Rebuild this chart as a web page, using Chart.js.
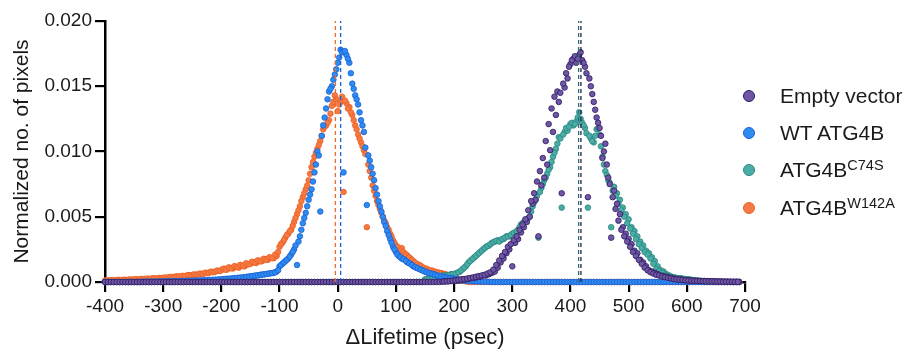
<!DOCTYPE html>
<html><head><meta charset="utf-8">
<script src="https://cdn.jsdelivr.net/npm/chart.js@4/dist/chart.umd.min.js"></script>
<style>
html,body{margin:0;padding:0;background:#fff;overflow:hidden;}
#wrap{position:relative;width:903px;height:353px;}
#legend{position:absolute;left:737px;top:77px;font-family:"Liberation Sans",Arial,Helvetica,sans-serif;font-size:21px;color:#1a1a1a;}
.item{display:flex;align-items:center;height:37.3px;white-space:nowrap;}
.dot{width:10px;height:10px;border-radius:50%;border:1.2px solid;margin-left:6px;margin-right:25px;flex:none;}
sup{font-size:14.5px;vertical-align:7px;line-height:0;}
</style>
</head><body>
<div id="wrap">
<canvas id="c" width="903" height="353"></canvas>
<div id="legend"></div>
</div>
<script>
// x bins (psec): main grid start and width
const binStart = -400;
const binWidth = 5;

// Legend names (base text, superscript)
const seriesNames = ["Empty vector", "WT ATG4B", "ATG4B", "ATG4B"];
const seriesSup = ["", "", "C74S", "W142A"];

// Mean lifetime shift (dashed lines), psec
const seriesMeans = [418, 5, 414, -4];

// Normalized no. of pixels, in units of 1e-4, one value per 5-psec bin from -400 to 690
const emptyVectorE4 = [
 0,0,0,0,0,0,0,0,0,0,0,0,0,0,0,0,0,0,0,0,
 0,0,0,0,0,0,0,0,0,0,0,0,0,0,0,0,0,0,0,0,
 0,0,0,0,0,0,0,0,0,0,0,0,0,0,0,0,0,0,0,0,
 0,0,0,0,0,0,0,0,0,0,0,0,0,0,0,0,0,0,0,0,
 0,0,0,0,0,0,0,0,0,0,0,0,0,0,0,0,0,0,0,0,
 0,0,0,0,0,0,0,0,0,0,0,0,0,0,0,0,0.3,0.4,0.5,0.7,
 1,1,1.5,2,2,2.5,3,3,4,4,5,5,6,7,8,11,15,18,22,25,
 12,30,33,38,42,46,50,60,63,35,74,80,90,101,115,128,138,68,149,156,
 167,171,168,174,170,165,65,150,138,126,118,95,106,80,34,70,60,52,42,37,
 33,29,24,22,17,15,12,9,8,7,6,5,4.5,4,3.5,3,2.5,2,2,1.5,
 1.5,1.2,1,1,1,0.8,0.8,0.7,0.6,0.5,0.5,0.4,0.4,0.3,0.3,0.2,0.2,0.2,0.1
];
const wtAtg4bE4 = [
 0,0,0,0,0,0,0,0,0,0,0,0,0,0.3,0.3,0.3,0.4,0.4,0.4,0.5,
 0.5,0.5,0.6,0.6,0.7,0.7,0.8,0.8,0.9,1,1,1.1,1.2,1.3,1.4,1.5,1.6,1.7,1.8,2,
 2,2.2,2.4,2.5,2.7,3,3.2,3.4,3.6,4,4.3,4.6,5,5.3,5.7,6,6.3,6.7,7,8,
 12,14,16,18,21,25,13,35,45,53,63,71,84,100,54,120,133,146,150,159,
 168,178,84,174,168,152,143,136,124,115,59,93,83,72,62,54,46,39,33,27,
 23,20,18,17,15,14,12,11,10,9,8,7,6.5,6,5,4.5,4,3.5,3,2.7,
 2.5,2,1.5,1.2,1,0.8,0.6,0.5,0.4,0.3,0.2,0.2,0.1,0,0,0,0,0,0,0,
 0,0,0,0,0,0,0,0,0,0,0,0,0,0,0,0,0,0,0,0,
 0,0,0,0,0,0,0,0,0,0,0,0,0,0,0,0,0,0,0,0,
 0,0,0,0,0,0,0,0,0,0,0,0,0,0,0,0,0,0,0,0,
 0,0,0,0,0,0,0,0,0,0,0,0,0,0,0,0,0,0,0
];
const atg4bC74SE4 = [
 0,0,0,0,0,0,0,0,0,0,0,0,0,0,0,0,0,0,0,0,
 0,0,0,0,0,0,0,0,0,0,0,0,0,0,0,0,0,0,0,0,
 0,0,0,0,0,0,0,0,0,0,0,0,0,0,0,0,0,0,0,0,
 0,0,0,0,0,0,0,0,0,0,0,0,0,0,0,0,0,0,0,0,
 0,0,0,0,0,0,0,0,0,0,0,0,0,0,0,0,0,0,0,0,
 0,0,0,0,0,0,0,0,0,0,2,2,3,3,4,4,5,5,5,6,
 6,7,8,10,12,15,17,19,21,23,25,27,28,30,31,32,32,33,35,35,
 37,38,40,44,46,48,50,58,63,34,72,78,83,88,96,102,111,57,115,116,
 121,120,123,130,122,118,57,110,107,117,113,96,85,78,42,73,68,63,57,52,
 48,42,39,35,31,28,24,22,19,16,12,9,8,6,5,4,3.5,3,3,2.5,
 2,2,1.5,1.2,1,0.8,0.5,0.4,0.3,0.2,0.2,0.1,0.1,0,0,0,0,0,0
];
const atg4bW142AE4 = [
 1,1,1.2,1,1.3,1.4,1.3,1.5,1.6,1.5,1.8,1.7,2,2.1,2,2.3,2.4,2.6,2.5,2.8,
 3,3.2,3.4,3.6,3.9,4.1,4.2,4.6,4.8,5.1,5.4,5.6,5.9,6.3,6.5,6.9,7.4,7.6,8.1,8.5,
 9,10.2,9.6,10.8,10.4,11.6,11,12.4,12,13.5,14,15.2,14.6,16.3,16,17.5,17,18.6,18.2,20,
 27,30,34,37,40,46,52,58,65,71,78,88,96,102,108,117,120,124,135,143,
 131,138,69,137,134,128,120,113,107,101,42,85,74,66,59,53,47,42,37,32,
 28,25,26,22,20,18,16,14,13,11.5,10,9.5,8.5,8,7.5,7,6.5,6,5,4.5,
 3.5,2.5,1.5,1,0.5,0,0,0,0,0,0,0,0,0,0,0,0,0,0,0,
 0,0,0,0,0,0,0,0,0,0,0,0,0,0,0,0,0,0,0,0,
 0,0,0,0,0,0,0,0,0,0,0,0,0,0,0,0,0,0,0,0,
 0,0,0,0,0,0,0,0,0,0,0,0,0,0,0,0,0,0,0,0,
 0,0,0,0,0,0,0,0,0,0,0,0,0,0,0,0,0,0,0
];

// Extra readings at the half-bins (5-psec step, starting at the given x), units 1e-4
const emptyVectorMidStart = 182.5;
const emptyVectorMidE4 = [
 0.4,0.6,0.8,1,1.2,1.6,2,2.2,2.6,3,3.5,4,4.5,5,5.5,6.5,7.5,9.5,13,16.5,
 20,23,27,29,32,35,40,44,48,55,62,68,77,85,95,108,121,133,142,146,
 145,152,160,165,170,173,171,176,168,160,156,144,132,122,112,100,90,75,65,56,
 47,40,35,31,27,23,20,17,14,11,9,7.5,6.5,5.5,5,4.2,3.8,3.2,2.8,2.2,
 2,1.8,1.6,1.3,1.1,1,0.9,0.8,0.7,0.6,0.5,0.5,0.4,0.4,0.3,0.3,0.2,0.2,0.2,0.1,
 0.1,0.1
];
const wtAtg4bMidStart = -197.5;
const wtAtg4bMidE4 = [
 2.1,2.3,2.5,2.6,2.9,3.1,3.3,3.5,3.8,4.1,4.5,4.8,5.1,5.5,5.8,6.2,6.5,6.9,7.5,9,
 13,15,17,19.5,23,28,31,40,49,58,67,77,90,97,112,126,140,148,155,163,
 172,176,177,171,160,148,140,130,120,103,97,88,78,67,58,50,43,36,30,25,
 21,19,17.5,16,14.5,13,11.5,10.5,9.5,8.5,7.5,6.8,6.2,5.5,4.8,4.2,3.8,3.3,2.9,2.6,
 2.2,1.8,1.3
];
const atg4bC74SMidStart = 152.5;
const atg4bC74SMidE4 = [
 2,2.5,3,3.5,4,4.5,5,5,5.5,6,6.5,7.5,9,11,13.5,16,18,20,22,24,
 26,27.5,29,30.5,31.5,31,33,34,35,36,37.5,39,42,45,47,49,54,61,66,69,
 75,80,86,92,99,106,110,113,118,119,122,121,126,125,120,114,112,108,112,118,
 104,90,82,76,70,66,60,55,50,45,41,37,33,29,26,23,21,18,14,10,
 8.5,7,5.5,4.5,3.8,3.2,3,2.8,2.2,2,1.8,1.4,1.1,0.9,0.6,0.5,0.4,0.3,0.2,0.2,
 0.1,0.1
];
const atg4bW142AMidStart = -397.5;
const atg4bW142AMidE4 = [
 1.4,1.2,1.5,1.3,1.7,1.5,1.8,1.6,2,1.8,2.2,2,2.4,2.3,2.6,2.5,2.9,2.7,3.1,3,
 3.5,3.3,3.9,3.7,4.3,4.1,4.7,4.5,5.3,5,5.8,5.5,6.4,6.1,7.1,6.8,7.9,7.5,8.8,8.4,
 10,9.4,11.2,10.5,12.2,11.4,13.1,12.5,14.4,13.6,15.5,14.8,16.6,15.8,17.8,17,19,18.3,21,23,
 29,32,36,39,43,49,55,62,68,74,83,92,99,105,112,119,122,129,138,140,
 136,142,139,133,130,124,117,110,104,98,90,80,70,62,56,50,45,40,35,30,
 27,24,23,21,19,17,15,13.5,12.5,11,10.2,9,8.8,7.8,7.2,6.8,6.2,5.5,4.8,4,
 3,2,1.2
];

// Axis ticks
const xTickMin = -400, xTickMax = 700, xTickStep = 100;
const yTickMin = 0, yTickMax = 0.020, yTickStep = 0.005;

const seriesValues = [emptyVectorE4, wtAtg4bE4, atg4bC74SE4, atg4bW142AE4];
const seriesMid = [emptyVectorMidE4, wtAtg4bMidE4, atg4bC74SMidE4, atg4bW142AMidE4];
const seriesMidStart = [emptyVectorMidStart, wtAtg4bMidStart, atg4bC74SMidStart, atg4bW142AMidStart];
const fillColors = ["#6f57a6", "#2d8cf0", "#4aaea7", "#f47a45"];
const edgeColors = ["#2e1a5e", "#1d5fd6", "#2b8580", "#ee5f22"];
const meanColors = ["#2a2050", "#1d5fd6", "#2a6f72", "#ee6a2a"];
const FONT = "'Liberation Sans', Arial, Helvetica, sans-serif";

function toPoints(arr, start){ return arr.map((v,i)=>({x: start + i*binWidth, y: v/1e4})); }

const datasets = [];
seriesValues.forEach((arr, k) => {
  datasets.push({
    label: seriesNames[k] + seriesSup[k],
    data: toPoints(arr, binStart).concat(toPoints(seriesMid[k], seriesMidStart[k])),
    showLine: false,
    pointRadius: 2.8,
    pointBorderWidth: 0.8,
    backgroundColor: fillColors[k],
    borderColor: edgeColors[k],
    clip: false,
    order: 0
  });
});
seriesMeans.forEach((m, k) => {
  datasets.push({
    label: 'mean ' + k,
    data: [{x: m, y: yTickMin}, {x: m, y: yTickMax}],
    showLine: true,
    pointRadius: 0,
    borderColor: meanColors[k],
    borderWidth: 1.3,
    borderDash: [4, 3],
    clip: false,
    order: -1
  });
});

new Chart(document.getElementById('c'), {
  type: 'scatter',
  data: { datasets },
  options: {
    responsive: false,
    animation: false,
    devicePixelRatio: 1,
    layout: { padding: { top: 21, right: 158, bottom: 0, left: 0 } },
    plugins: { legend: { display: false }, tooltip: { enabled: false } },
    scales: {
      x: {
        type: 'linear', min: xTickMin, max: xTickMax,
        ticks: { stepSize: xTickStep, color: '#1a1a1a', font: { size: 19, family: FONT }, padding: 3,
                 maxRotation: 0, autoSkip: false, callback: v => String(v) },
        grid: { drawOnChartArea: false, drawTicks: true, tickLength: 10, color: '#000', lineWidth: 2.2 },
        border: { display: true, color: '#000', width: 2.5 },
        title: { display: true, text: 'ΔLifetime (psec)', color: '#1a1a1a', font: { size: 22, family: FONT },
                 padding: { top: 0, bottom: 2 } },
        afterFit(s) { s.height = 71; }
      },
      y: {
        type: 'linear', min: yTickMin, max: yTickMax,
        ticks: { stepSize: yTickStep, color: '#1a1a1a', font: { size: 19, family: FONT }, padding: 3,
                 callback: v => Number(v).toFixed(3) },
        grid: { drawOnChartArea: false, drawTicks: true, tickLength: 10, color: '#000', lineWidth: 2.2 },
        border: { display: true, color: '#000', width: 2.5 },
        title: { display: true, text: 'Normalized no. of pixels', color: '#1a1a1a', font: { size: 21, family: FONT },
                 padding: { top: 10, bottom: 0 } },
        afterFit(s) { s.width = 105; }
      }
    }
  }
});

// HTML legend (real text with superscripts)
const leg = document.getElementById('legend');
seriesNames.forEach((name, k) => {
  const row = document.createElement('div');
  row.className = 'item';
  const dot = document.createElement('span');
  dot.className = 'dot';
  dot.style.background = fillColors[k];
  dot.style.borderColor = edgeColors[k];
  row.appendChild(dot);
  const txt = document.createElement('span');
  txt.textContent = name;
  if (seriesSup[k]) {
    const sup = document.createElement('sup');
    sup.textContent = seriesSup[k];
    txt.appendChild(sup);
  }
  row.appendChild(txt);
  leg.appendChild(row);
});
</script>
</body></html>
